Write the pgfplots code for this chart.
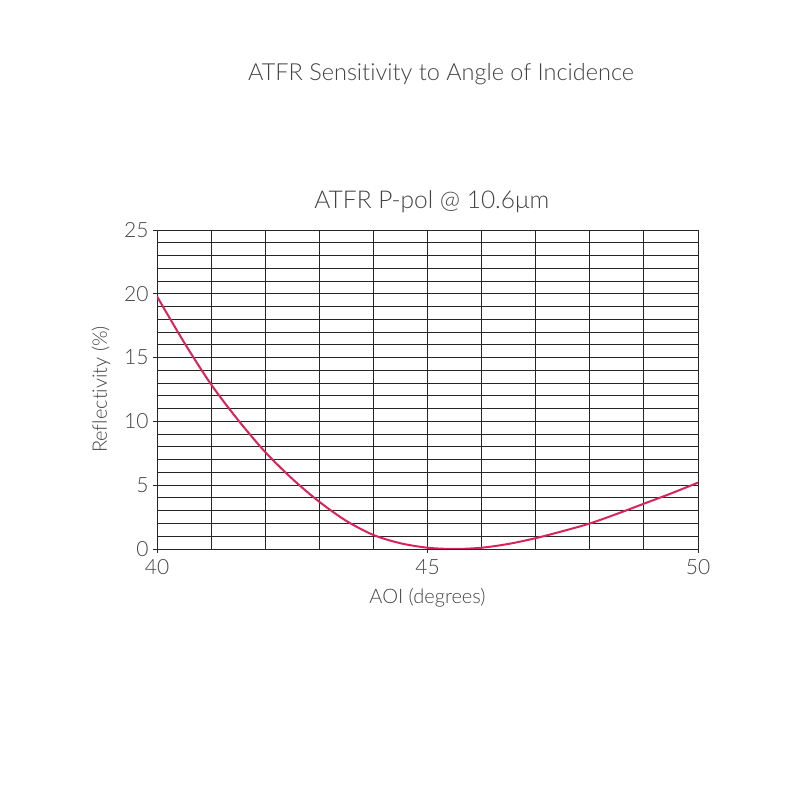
\documentclass[border=0pt]{standalone}
\usepackage{fontspec}
\setmainfont{Lato Light}[Ligatures={NoCommon}]
\usepackage{pgfplots}
\pgfplotsset{compat=1.18}
\definecolor{curve}{HTML}{D8245A}
\definecolor{txt}{HTML}{444444}
\definecolor{gridc}{HTML}{262626}
\begin{document}
\begin{tikzpicture}[x=1pt,y=1pt]
\path[use as bounding box, fill=white] (0,0) rectangle (800,800);
\node[text=txt, font=\fontsize{23.5}{28}\selectfont, anchor=center] at (441,726) {ATFR Sensitivity to Angle of Incidence};
\begin{axis}[
  at={(157pt,251pt)}, anchor=south west,
  width=541pt, height=319pt, scale only axis,
  xmin=40, xmax=50, ymin=0, ymax=25,
  xtick={40,45,50}, minor xtick={41,...,49},
  ytick={0,5,...,25}, minor ytick={1,...,24},
  grid=both,
  major grid style={gridc, line width=0.95pt},
  minor grid style={gridc, line width=0.95pt},
  axis line style={gridc, line width=0.95pt},
  tick style={gridc, line width=0.95pt},
  tick align=outside,
  major tick length=4pt, minor tick length=0pt,
  xtick pos=bottom, ytick pos=left,
  /pgf/number format/assume math mode=true,
  ticklabel style={text=txt, font=\fontsize{21}{24}\selectfont},
  yticklabel style={xshift=-1pt},
  xticklabel style={yshift=-3pt},
  title={ATFR P-pol @ 10.6μm},
  title style={text=txt, font=\fontsize{24.5}{28}\selectfont, at={(axis description cs:0.508,1.069)}, anchor=center},
  xlabel={AOI (degrees)},
  xlabel style={text=txt, font=\fontsize{20}{24}\selectfont, at={(axis description cs:0.5,-0.152)}, anchor=center},
  ylabel={Reflectivity (\%)},
  ylabel style={text=txt, font=\fontsize{20}{24}\selectfont, at={(axis description cs:-0.1035,0.5)}, anchor=center, rotate=0},
]
\addplot[curve, line width=2pt, smooth] coordinates {
(40,19.8) (40.5,16.2) (41,12.9) (41.5,10.1) (42,7.6) (42.5,5.5) (43,3.7) (43.5,2.2) (44,1.1) (44.5,0.45) (45,0.1) (45.5,0.0) (46,0.1) (46.5,0.4) (47,0.85) (47.5,1.4) (48,2.0) (48.5,2.75) (49,3.55) (49.5,4.35) (50,5.2)
};
\end{axis}
\end{tikzpicture}
\end{document}
